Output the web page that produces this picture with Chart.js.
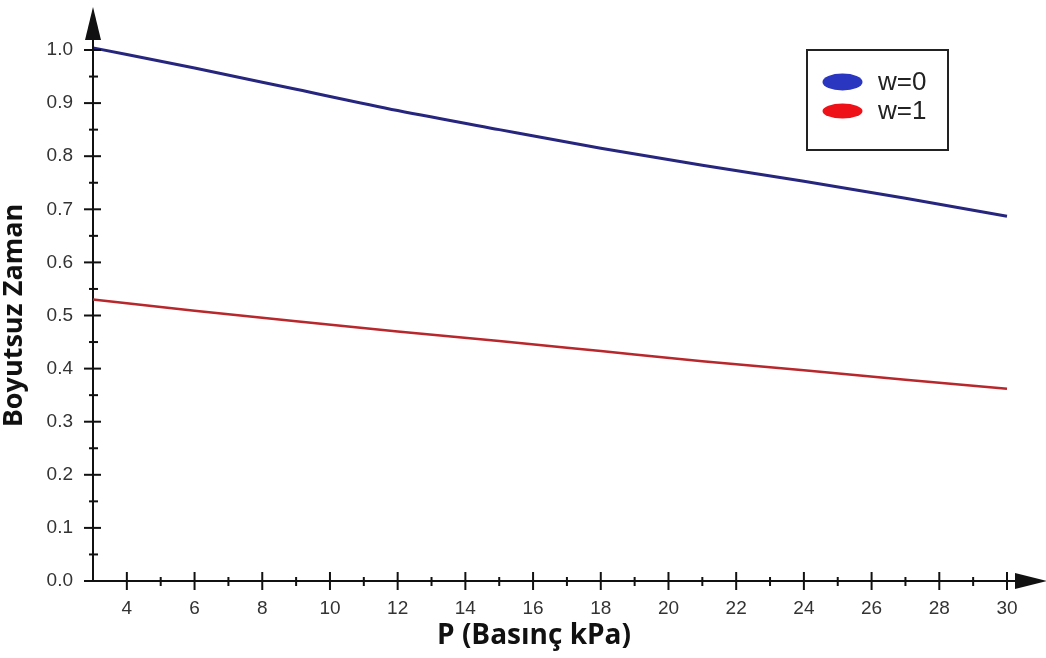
<!DOCTYPE html>
<html>
<head>
<meta charset="utf-8">
<script src="https://cdn.jsdelivr.net/npm/chart.js@4"></script>
<style>
html,body{margin:0;padding:0;background:#fff;}
#wrap{width:1046px;height:658px;position:relative;}
</style>
</head>
<body>
<div id="wrap"><canvas id="c" width="1046" height="658"></canvas></div>
<script>
// ---- data ----
const pressure = [3, 6, 9, 12, 15, 18, 21, 24, 27, 30];
const w0Values = [1.004, 0.966, 0.926, 0.886, 0.850, 0.815, 0.783, 0.753, 0.721, 0.687];
const w1Values = [0.530, 0.509, 0.489, 0.470, 0.452, 0.433, 0.414, 0.397, 0.379, 0.362];
const seriesLabels = ['w=0', 'w=1'];
const xTickValues = [4, 6, 8, 10, 12, 14, 16, 18, 20, 22, 24, 26, 28, 30];
const xMinorValues = [5, 7, 9, 11, 13, 15, 17, 19, 21, 23, 25, 27, 29];
const yTickValues = [0.0, 0.1, 0.2, 0.3, 0.4, 0.5, 0.6, 0.7, 0.8, 0.9, 1.0];
const yMinorValues = [0.05, 0.15, 0.25, 0.35, 0.45, 0.55, 0.65, 0.75, 0.85, 0.95];
const xTitle = 'P (Basınç kPa)';
const yTitle = 'Boyutsuz Zaman';

const AXIS = '#111';
const LINE_COLORS = ['#27267f', '#b8272b'];
const LEGEND_COLORS = ['#2a35c0', '#ee1218'];

const axisDeco = {
  id: 'axisDeco',
  afterDraw(chart) {
    const {ctx, chartArea: a, scales: {x, y}} = chart;
    ctx.save();
    ctx.strokeStyle = AXIS; ctx.fillStyle = AXIS; ctx.lineWidth = 2;
    const seg = (x1, y1, x2, y2) => { ctx.beginPath(); ctx.moveTo(x1, y1); ctx.lineTo(x2, y2); ctx.stroke(); };
    yTickValues.forEach(v => { const p = y.getPixelForValue(v); seg(a.left - 9, p, a.left + 8, p); });
    yMinorValues.forEach(v => { const p = y.getPixelForValue(v); seg(a.left - 4, p, a.left + 5, p); });
    xTickValues.forEach(v => { const p = x.getPixelForValue(v); seg(p, a.bottom - 9, p, a.bottom + 9); });
    xMinorValues.forEach(v => { const p = x.getPixelForValue(v); seg(p, a.bottom - 4, p, a.bottom + 5); });
    // axis extensions and arrows
    seg(a.left, a.top, a.left, a.top - 11);
    ctx.beginPath(); ctx.moveTo(a.left - 8, a.top - 10); ctx.lineTo(a.left + 8, a.top - 10); ctx.lineTo(a.left, a.top - 43); ctx.closePath(); ctx.fill();
    seg(a.right, a.bottom, a.right + 9, a.bottom);
    ctx.beginPath(); ctx.moveTo(a.right + 8, a.bottom - 8); ctx.lineTo(a.right + 8, a.bottom + 8); ctx.lineTo(a.right + 40, a.bottom); ctx.closePath(); ctx.fill();
    // x title
    ctx.fillStyle = '#111';
    ctx.font = 'bold 28px "Open Sans"';
    ctx.textAlign = 'center'; ctx.textBaseline = 'middle';
    ctx.fillText(xTitle, 534, 636);
    // legend
    const bx = 807, by = 50, bw = 141, bh = 100;
    ctx.lineWidth = 2; ctx.strokeStyle = '#222';
    ctx.strokeRect(bx, by, bw, bh);
    ctx.font = '26px "Liberation Sans", Arial';
    ctx.textAlign = 'left';
    chart.data.datasets.forEach((ds, i) => {
      const cy = i === 0 ? 82 : 111;
      ctx.fillStyle = LEGEND_COLORS[i];
      ctx.beginPath(); ctx.ellipse(842.5, cy, 20, i === 0 ? 8.5 : 7.5, 0, 0, Math.PI * 2); ctx.fill();
      ctx.fillStyle = '#222';
      ctx.fillText(ds.label, 878, cy + 1);
    });
    ctx.restore();
  }
};

new Chart(document.getElementById('c'), {
  type: 'line',
  data: {
    datasets: [
      { label: seriesLabels[0], data: pressure.map((p, i) => ({x: p, y: w0Values[i]})), borderColor: LINE_COLORS[0], borderWidth: 3, pointRadius: 0, cubicInterpolationMode: 'monotone', clip: false },
      { label: seriesLabels[1], data: pressure.map((p, i) => ({x: p, y: w1Values[i]})), borderColor: LINE_COLORS[1], borderWidth: 2.5, pointRadius: 0, cubicInterpolationMode: 'monotone', clip: false }
    ]
  },
  options: {
    responsive: false,
    animation: false,
    layout: { padding: { top: 50, right: 39, left: 0, bottom: 0 } },
    plugins: { legend: { display: false }, tooltip: { enabled: false } },
    scales: {
      x: {
        type: 'linear', min: 3, max: 30,
        afterBuildTicks: s => { s.ticks = xTickValues.map(v => ({value: v})); },
        afterFit: s => { s.height = 77; },
        grid: { display: true, drawOnChartArea: false, drawTicks: false, color: 'rgba(0,0,0,0)' },
        border: { display: true, color: AXIS, width: 2 },
        ticks: { color: '#333', font: { family: '"Liberation Sans", Arial', size: 19 }, padding: 16, maxRotation: 0, autoSkip: false },
        title: { display: false }
      },
      y: {
        type: 'linear', min: 0, max: 1.0,
        afterBuildTicks: s => { s.ticks = yTickValues.map(v => ({value: v})); },
        afterFit: s => { s.width = 93; },
        grid: { display: true, drawOnChartArea: false, drawTicks: false, color: 'rgba(0,0,0,0)' },
        border: { display: true, color: AXIS, width: 2 },
        ticks: { color: '#333', font: { family: '"Liberation Sans", Arial', size: 19 }, padding: 20, callback: v => v.toFixed(1) },
        title: { display: true, text: yTitle, color: '#111', font: { family: '"Open Sans"', size: 27, weight: 'bold' }, padding: { top: -2, bottom: 0 } }
      }
    }
  },
  plugins: [axisDeco]
});
</script>
</body>
</html>
